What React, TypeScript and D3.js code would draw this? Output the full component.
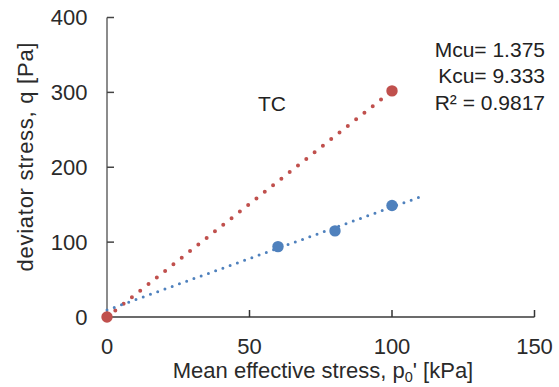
import React from "react";
import * as d3 from "d3";

const W = 559;
const H = 387;

const xTicks = [0, 50, 100, 150];
const yTicks = [0, 100, 200, 300, 400];

// TC series (red)
const tcX = [0, 100];
const tcY = [0, 302];

// second series (blue)
const blueX = [60, 80, 100];
const blueY = [94, 115, 149];

const blueTrendRange = [0, 110];

const RED = "#C0504D";
const BLUE = "#4F81BD";
const FONT = "'Liberation Sans', Arial, sans-serif";

function linreg(xs: number[], ys: number[]) {
  const mx = d3.mean(xs)!;
  const my = d3.mean(ys)!;
  let sxy = 0, sxx = 0, syy = 0;
  xs.forEach((x, i) => {
    sxy += (x - mx) * (ys[i] - my);
    sxx += (x - mx) ** 2;
    syy += (ys[i] - my) ** 2;
  });
  const m = sxy / sxx;
  const k = my - m * mx;
  const r2 = (sxy * sxy) / (sxx * syy);
  return { m, k, r2 };
}

export default function App() {
  const x = d3.scaleLinear().domain([0, 150]).range([107, 534.5]);
  const y = d3.scaleLinear().domain([0, 400]).range([317, 17.5]);

  const blueFit = linreg(blueX, blueY);
  const tcFit = linreg(tcX, tcY);

  const line = d3
    .line<[number, number]>()
    .x((d) => x(d[0]))
    .y((d) => y(d[1]));

  const tcTrend: [number, number][] = [
    [tcX[0], tcFit.k + tcFit.m * tcX[0]],
    [tcX[1], tcFit.k + tcFit.m * tcX[1]],
  ];
  const blueTrend: [number, number][] = blueTrendRange.map(
    (v) => [v, blueFit.k + blueFit.m * v] as [number, number]
  );

  const x0 = x(0);
  const y0 = y(0);

  return (
    <svg
      width={W}
      height={H}
      style={{ position: "absolute", left: 0, top: 0, background: "#fff" }}
      fontFamily={FONT}
    >
      <rect width={W} height={H} fill="#fff" />
      {/* axes */}
      <line x1={x0} x2={x0} y1={y(400)} y2={y0} stroke="#666" strokeWidth={1.5} />
      <line x1={x0} x2={x(150)} y1={y0} y2={y0} stroke="#3a3a3a" strokeWidth={1.5} />
      {yTicks.map((t) => (
        <g key={"y" + t}>
          {t > 0 && (
            <line x1={x0} x2={x0 + 7} y1={y(t)} y2={y(t)} stroke="#444" strokeWidth={1.5} />
          )}
          <text
            x={87.5}
            y={y(t)}
            dy="0.36em"
            textAnchor="end"
            fontSize={22}
            fill="#2a2a2a"
          >
            {t}
          </text>
        </g>
      ))}
      {xTicks.map((t) => (
        <g key={"x" + t}>
          {t > 0 && (
            <line x1={x(t)} x2={x(t)} y1={y0} y2={y0 - 7} stroke="#333" strokeWidth={1.5} />
          )}
          <text x={x(t)} y={353.5} textAnchor="middle" fontSize={22} fill="#2a2a2a">
            {t}
          </text>
        </g>
      ))}
      {/* axis titles */}
      <text x={323} y={378} textAnchor="middle" fontSize={22} fill="#2a2a2a">
        Mean effective stress, p<tspan fontSize={14.5} dy={4}>0</tspan>
        <tspan dy={-4}>' [kPa]</tspan>
      </text>
      <text
        transform={`translate(33, 157) rotate(-90)`}
        textAnchor="middle"
        fontSize={22}
        fill="#2a2a2a"
        textLength={229}
        lengthAdjust="spacing"
      >
        deviator stress, q [Pa]
      </text>

      {/* trendlines */}
      <path
        d={line(tcTrend) || ""}
        fill="none"
        stroke={RED}
        strokeWidth={4}
        strokeDasharray="0 10.6"
        strokeLinecap="round"
      />
      <path
        d={line(blueTrend) || ""}
        fill="none"
        stroke={BLUE}
        strokeWidth={3}
        strokeDasharray="0 7.7"
        strokeLinecap="round"
      />

      {/* markers */}
      {blueX.map((v, i) => (
        <circle key={"b" + i} cx={x(v)} cy={y(blueY[i])} r={5.7} fill={BLUE} />
      ))}
      {tcX.map((v, i) => (
        <circle key={"r" + i} cx={x(v)} cy={y(tcY[i])} r={5.7} fill={RED} />
      ))}

      {/* annotations */}
      <text x={258} y={111} fontSize={21} fill="#222">
        TC
      </text>
      <g fontSize={21} fill="#222" textAnchor="end">
        <text x={545} y={56.5}>
          Mcu= {blueFit.m.toFixed(3)}
        </text>
        <text x={545} y={83}>
          Kcu= {blueFit.k.toFixed(3)}
        </text>
        <text x={545} y={109.5}>
          R² = {blueFit.r2.toFixed(4)}
        </text>
      </g>
    </svg>
  );
}
